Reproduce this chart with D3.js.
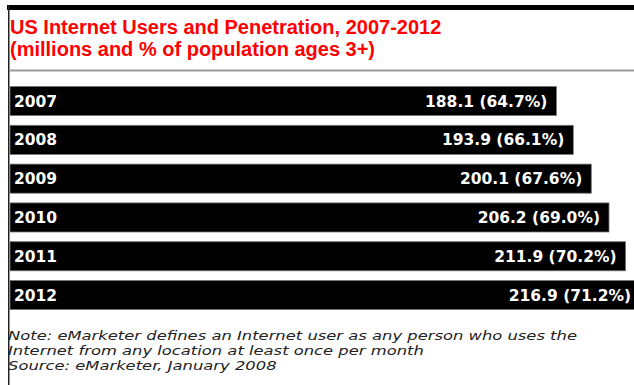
<!DOCTYPE html>
<html>
<head>
<meta charset="utf-8">
<script src="https://cdn.jsdelivr.net/npm/d3@7"></script>
<style>
  body { margin: 0; background: #fff; }
  svg { display: block; }
</style>
</head>
<body>
<div id="chart"></div>
<script>
// data
let years = ["2007", "2008", "2009", "2010", "2011", "2012"];
let users = [188.1, 193.9, 200.1, 206.2, 211.9, 216.9];
let penetration = [64.7, 66.1, 67.6, 69.0, 70.2, 71.2];

let titleLines = [
  "US Internet Users and Penetration, 2007-2012",
  "(millions and % of population ages 3+)"
];
let noteLines = [
  "Note: eMarketer defines an Internet user as any person who uses the",
  "Internet from any location at least once per month",
  "Source: eMarketer, January 2008"
];

let width = 634, height = 385;

let svg = d3.select("#chart")
  .append("svg")
  .attr("width", width)
  .attr("height", height);

// frame: thick top band, thin left line, grey rule under title
svg.append("rect")
  .attr("x", 7).attr("y", 5)
  .attr("width", width - 7).attr("height", 5)
  .attr("fill", "#000");

svg.append("rect")
  .attr("x", 8).attr("y", 5)
  .attr("width", 1.5).attr("height", height - 5)
  .attr("fill", "#222");

svg.append("rect")
  .attr("x", 9).attr("y", 69.5)
  .attr("width", width - 9).attr("height", 2)
  .attr("fill", "#999");

// title
svg.selectAll(".title")
  .data(titleLines)
  .enter()
  .append("text")
  .attr("class", "title")
  .attr("x", 10)
  .attr("y", (d, i) => 33.5 + i * 22)
  .style("font-family", "'Liberation Sans', Arial, sans-serif")
  .style("font-weight", "bold")
  .style("font-size", "20px")
  .style("fill", "#ff0000")
  .text(d => d);

// scales
let x = d3.scaleLinear()
  .domain([0, 220])
  .range([10, 10 + 220 * 2.905]);

let y = d3.scaleBand()
  .domain(years)
  .range([86.5, 309.6])
  .paddingInner(0.25)
  .paddingOuter(0);

let rows = years.map((yr, i) => ({ year: yr, users: users[i], pct: penetration[i] }));

// bars
svg.selectAll(".bar")
  .data(rows)
  .enter()
  .append("rect")
  .attr("class", "bar")
  .attr("x", x(0))
  .attr("y", d => y(d.year))
  .attr("width", d => x(d.users) - x(0))
  .attr("height", y.bandwidth())
  .attr("fill", "#000")
  .attr("stroke", "#777")
  .attr("stroke-width", 0.8);

// year labels
svg.selectAll(".year-label")
  .data(rows)
  .enter()
  .append("text")
  .attr("class", "year-label")
  .attr("x", 14)
  .attr("y", d => y(d.year) + y.bandwidth() / 2)
  .attr("dy", "0.36em")
  .style("font-family", "'DejaVu Sans', Verdana, sans-serif")
  .style("font-weight", "bold")
  .style("font-size", "15.5px")
  .style("fill", "#fff")
  .text(d => d.year);

// value labels
svg.selectAll(".value-label")
  .data(rows)
  .enter()
  .append("text")
  .attr("class", "value-label")
  .attr("x", d => x(d.users) - 9)
  .attr("y", d => y(d.year) + y.bandwidth() / 2)
  .attr("dy", "0.36em")
  .style("text-anchor", "end")
  .style("font-family", "'DejaVu Sans', Verdana, sans-serif")
  .style("font-weight", "bold")
  .style("font-size", "15.5px")
  .style("fill", "#fff")
  .text(d => d.users.toFixed(1) + " (" + d.pct.toFixed(1) + "%)");

// footnote - the original type is wide and short, so stretch it sideways
let notes = svg.append("g")
  .attr("transform", "translate(8,0) scale(1.31,1)");

notes.selectAll(".note")
  .data(noteLines)
  .enter()
  .append("text")
  .attr("class", "note")
  .attr("x", 0)
  .attr("y", (d, i) => 340.5 + i * 14.8)
  .style("font-family", "'DejaVu Sans', Verdana, sans-serif")
  .style("font-style", "italic")
  .style("font-size", "12.5px")
  .style("fill", "#222")
  .text(d => d);
</script>
</body>
</html>
